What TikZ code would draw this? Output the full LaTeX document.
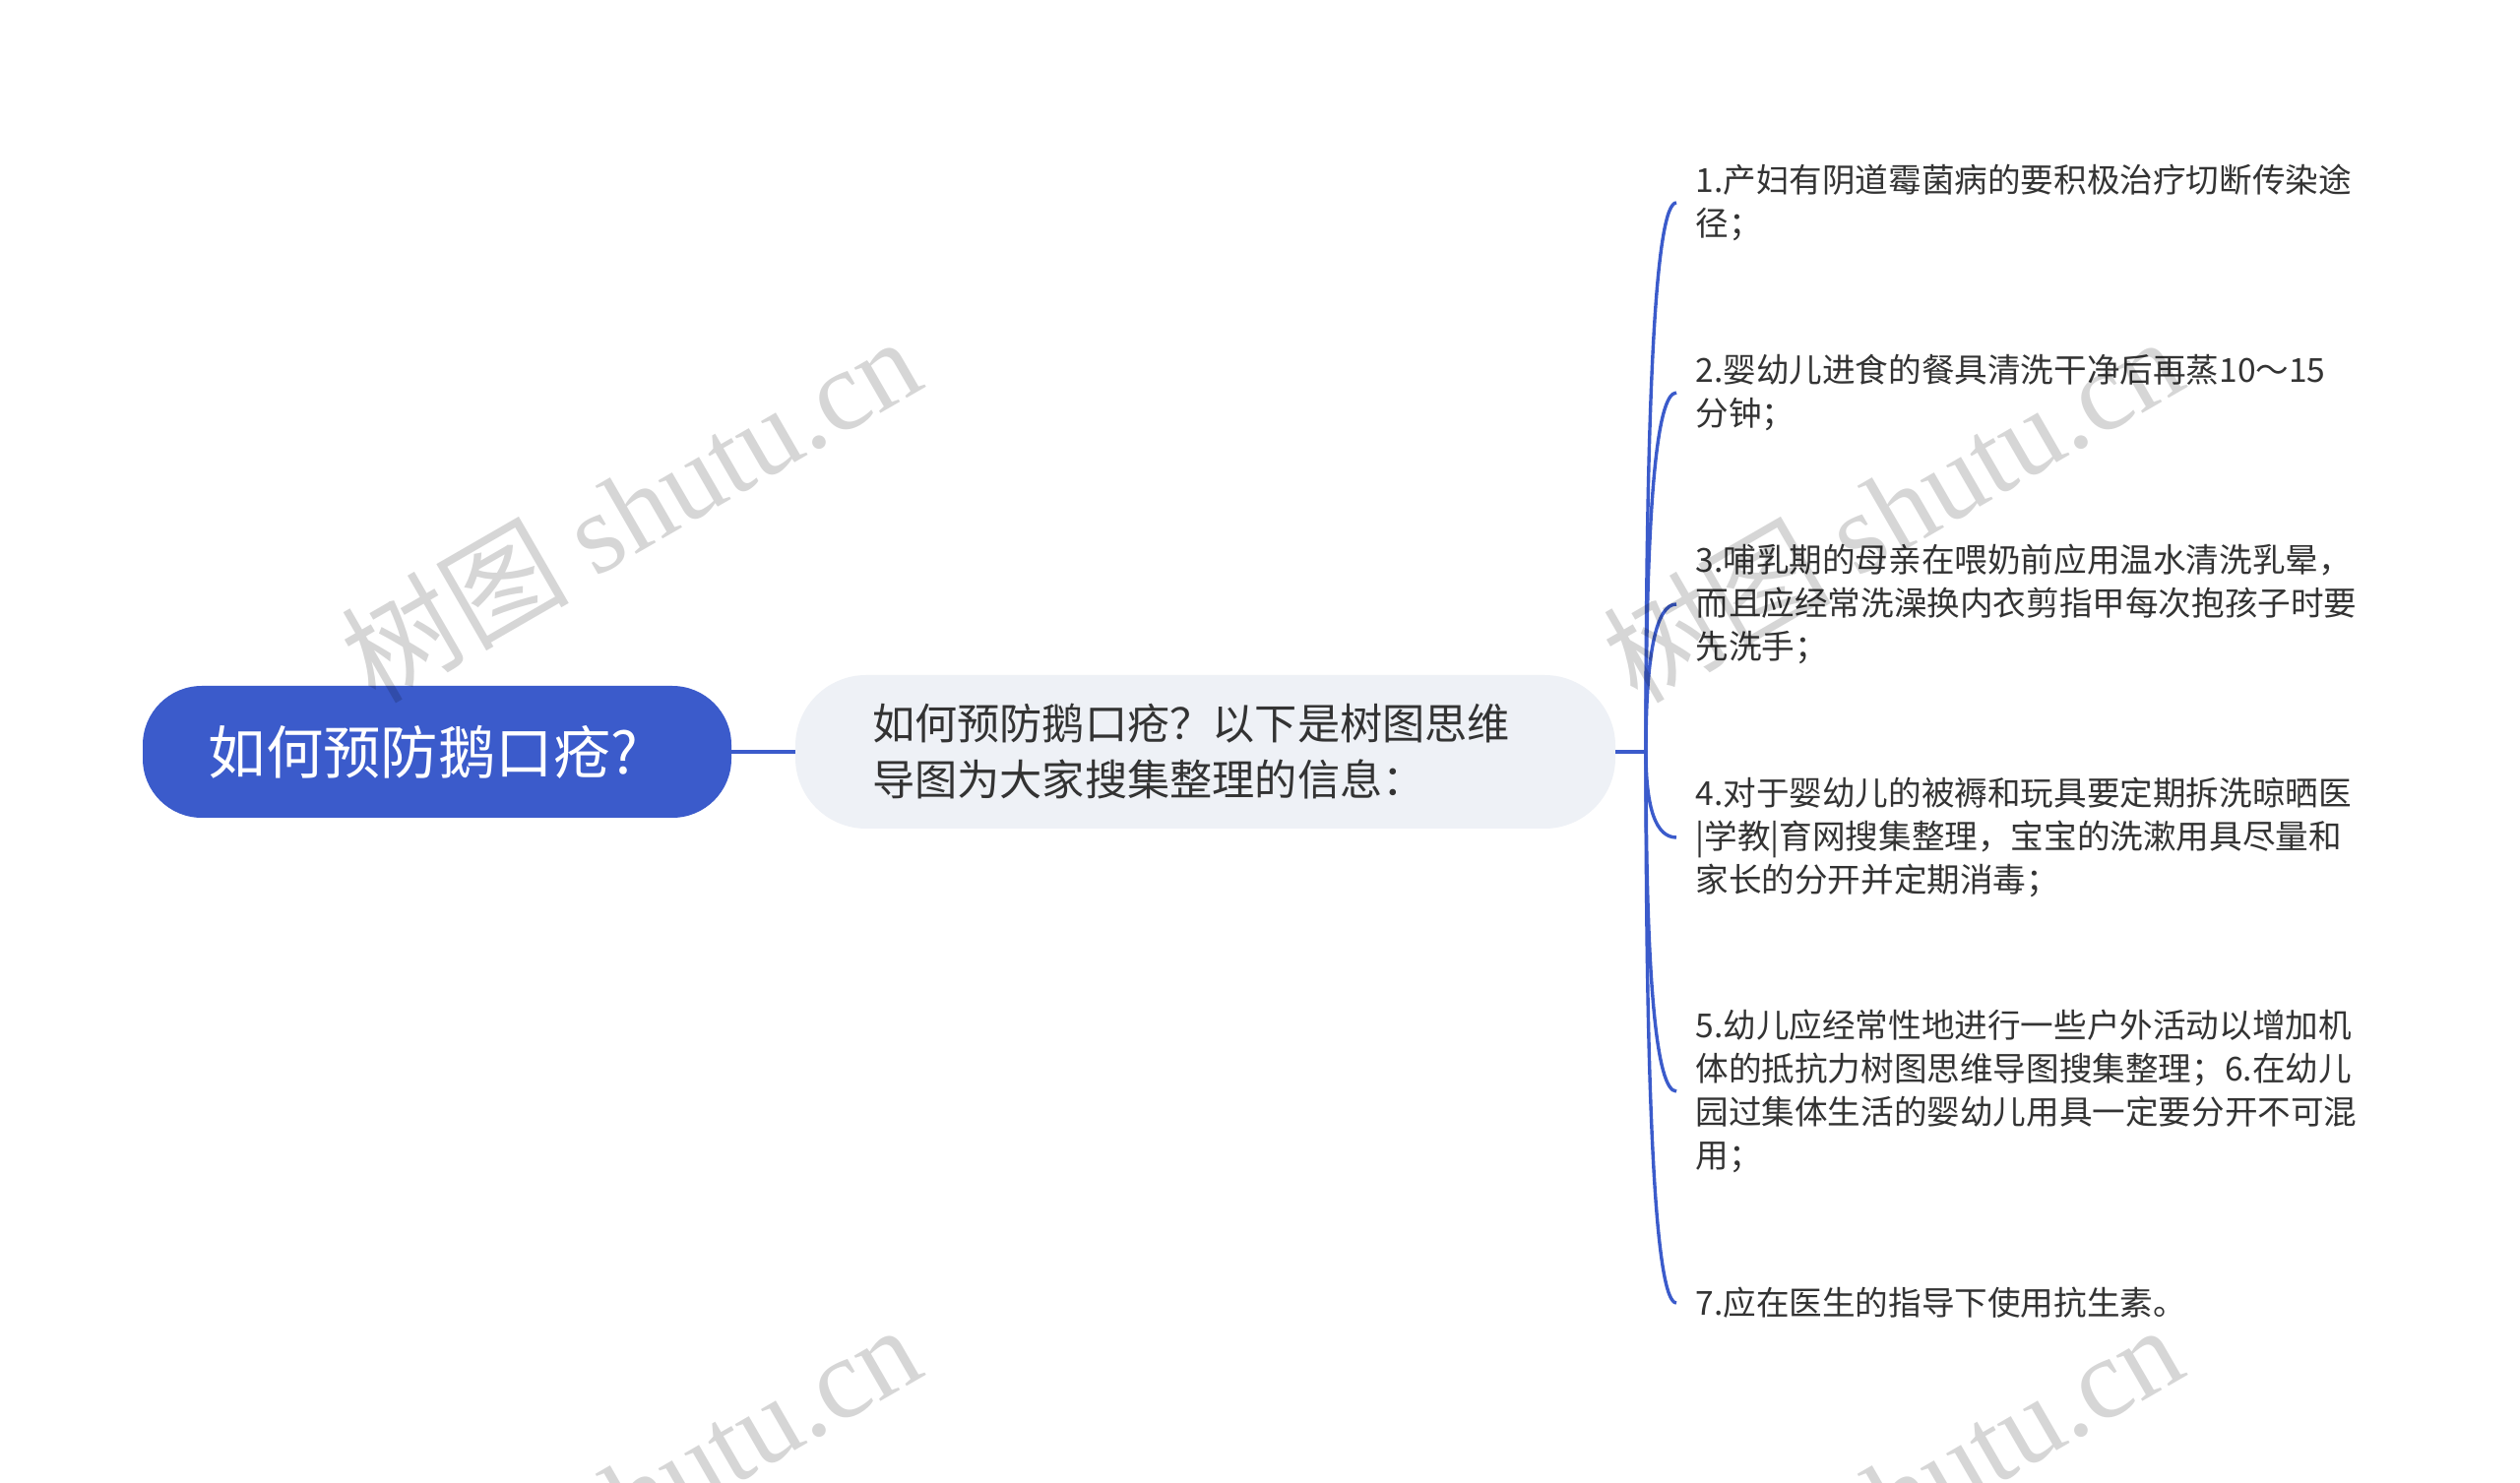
\documentclass[tikz,border=0pt]{standalone}
\usepackage{fontspec}
\setmainfont{Noto Sans CJK SC}
\newfontfamily\wmlatin{Liberation Serif}
\usetikzlibrary{calc}
\definecolor{rootblue}{HTML}{3B5BCB}
\definecolor{centerfill}{HTML}{EEF1F6}
\definecolor{leaftext}{HTML}{333333}
\begin{document}
\begin{tikzpicture}[x=0.5pt,y=-0.5pt,
  rootbox/.style={draw=none,fill=rootblue,text=white,rounded corners=30pt,
    minimum width=299pt,minimum height=67pt,inner sep=0pt,
    font=\fontsize{29.2pt}{34pt}\selectfont},
  centerbox/.style={draw=none,fill=centerfill,text=leaftext,rounded corners=36pt,
    text width=338.5pt,inner xsep=39pt,inner ysep=0pt,minimum height=78pt,align=left,
    font=\fontsize{21.6pt}{28.5pt}\selectfont},
  leafbox/.style={anchor=west,inner xsep=9.5pt,inner ysep=0pt,align=left,text=leaftext,
    font=\fontsize{16.8pt}{22pt}\selectfont},
  conn/.style={draw=rootblue,line width=1.7pt},
  wm/.style={text=black,opacity=0.16,rotate=30,font=\fontsize{58pt}{62pt}\selectfont}
]
\useasboundingbox (0,0) rectangle (2560,1507);
\fill[white] (0,0) rectangle (2560,1507);

\node[rootbox] (root) at (444,764) {如何预防鹅口疮?\hspace*{14pt}};
\node[centerbox] (center) at (1224.5,764) {如何预防鹅口疮？以下是树图思维\\导图为大家搜集整理的信息：};
\coordinate (trunk) at (1672,764);

\node[leafbox] (L1) at (1703,206) {1.产妇有阴道霉菌病的要积极治疗切断传染途\\径；};
\node[leafbox] (L2) at (1703,399) {2.婴幼儿进食的餐具清洗干净后再蒸10～15\\分钟；};
\node[leafbox] (L3) at (1703,614) {3.哺乳期的母亲在喂奶前应用温水清洗乳晕，\\而且应经常洗澡换内衣剪指甲每次抱孩子时要\\先洗手；};
\node[leafbox] (L4) at (1703,851) {4.对于婴幼儿的被褥和玩具要定期拆洗晾晒医\\|学教|育网搜集整理，宝宝的洗漱用具尽量和\\家长的分开并定期消毒；};
\node[leafbox] (L5) at (1703,1109) {5.幼儿应经常性地进行一些户外活动以增加机\\体的抵抗力树图思维导图搜集整理；6.在幼儿\\园过集体生活的婴幼儿用具一定要分开不可混\\用；};
\node[leafbox] (L7) at (1703,1324) {7.应在医生的指导下使用抗生素。};

\draw[conn] (root.east) -- (center.west);
\draw[conn] (center.east) -- (trunk);
\foreach \L in {L1,L2,L3,L4,L5,L7}{
  \draw[conn] (trunk) .. controls ($(trunk)!0.6667!(trunk|-\L.west)$) and ($(\L.west)!0.6667!(trunk|-\L.west)$) .. (\L.west);
}

\begin{scope}
\clip (0,0) rectangle (2560,1507);
\node[wm] (wm1) at (640,516) {树图 {\wmlatin shutu.cn}};
\node[wm] (wm2) at (1922,516) {树图 {\wmlatin shutu.cn}};
\node[wm] (wm3) at (640,1520) {树图 {\wmlatin shutu.cn}};
\node[wm] (wm4) at (1922,1520) {树图 {\wmlatin shutu.cn}};
\end{scope}
\end{tikzpicture}
\end{document}
